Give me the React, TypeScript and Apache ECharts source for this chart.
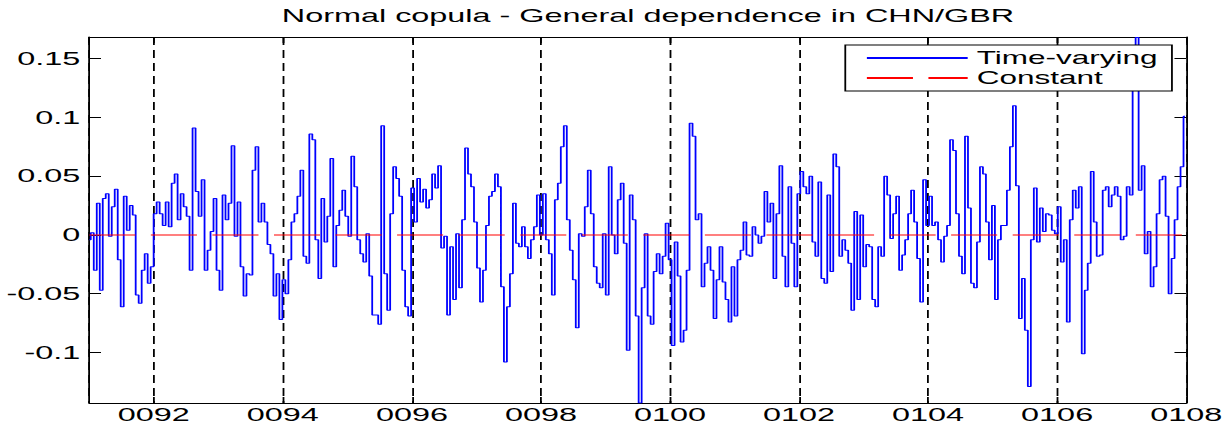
import { useEffect, useRef } from "react";
import * as echarts from "echarts";

const TITLE = "Normal copula - General dependence in CHN/GBR";
const SERIES_NAMES = ["Time-varying", "Constant"];
const X_MIN = 91;
const X_MAX = 108;
const X_STEP = 0.0464;
const Y_MIN = -0.143;
const Y_MAX = 0.1685;
const CONSTANT_VALUE = 0;

// time-varying dependence, read left to right
const tvA = [-0.004, 0.002, -0.030, 0.027, -0.047, 0.031, 0.035, -0.001, 0.024, 0.039, -0.021, -0.061, 0.033, 0.004, 0.025, 0.017, -0.051, -0.058, -0.030, -0.016, -0.041, -0.027, 0.018, 0.028, 0.018, 0.008, 0.028, 0.007, 0.044, 0.052, 0.013, 0.035, 0.024, 0.016];
const tvB = [-0.030, 0.091, 0.037, 0.016, 0.047, -0.030, -0.013, 0.003, 0.031, -0.030, -0.047, 0.034, 0.013, 0.027, 0.076, -0.001, 0.028, -0.027, -0.052, -0.033, -0.034, 0.055, 0.075, 0.011, 0.027, 0.011, -0.008, -0.016, -0.052, -0.033, -0.072, -0.038, -0.050];
const tvC = [-0.021, 0.011, 0.018, 0.033, 0.055, -0.018, -0.024, 0.086, 0.081, -0.004, -0.037, 0.031, -0.006, 0.016, 0.065, -0.027, 0.008, 0.021, 0.038, 0.016, -0.001, 0.067, 0.041, -0.004, -0.016, -0.023, 0.001, -0.035, -0.068, -0.068, -0.076, 0.093, -0.033];
const tvD = [-0.064, 0.018, 0.058, 0.048, 0.033, -0.030, -0.061, -0.069, 0.040, 0.011, 0.048, 0.028, 0.039, 0.023, 0.030, 0.052, 0.040, 0.059, -0.011, -0.001, -0.068, -0.010, -0.055, 0.001, -0.045, 0.013, 0.074, 0.052, 0.041, 0.011, -0.028, -0.057, -0.030];
const tvE = [0.008, 0.033, 0.037, 0.052, 0.041, -0.044, -0.108, -0.061, -0.033, 0.027, -0.007, -0.010, 0.007, -0.010, -0.020, -0.004, 0.007, 0.034, 0.000, 0.035, -0.004, -0.016, -0.051, 0.030, 0.044, 0.075, 0.093, 0.013, -0.013, -0.038, -0.079, 0.001, -0.001];
const tvF = [0.024, 0.055, 0.018, -0.027, -0.041, -0.045, 0.001, -0.051, 0.058, 0.000, -0.016, 0.030, 0.044, -0.007, -0.098, 0.034, 0.013, -0.069, -0.143, -0.045, 0.001, -0.069, -0.076, -0.031, -0.016, -0.033, -0.018, 0.010, -0.021, -0.094, -0.006, -0.035, -0.091, -0.081];
const tvG = [-0.030, 0.095, 0.084, 0.013, 0.018, -0.044, -0.024, -0.010, -0.030, -0.071, -0.038, -0.010, -0.040, -0.055, -0.074, -0.027, -0.069, -0.021, -0.013, 0.011, -0.017, -0.018, 0.007, 0.000, -0.007, -0.001, 0.037, 0.011, 0.027, -0.037, 0.018, 0.059, -0.018];
const tvH = [-0.044, 0.041, -0.007, -0.044, 0.035, 0.054, 0.041, 0.035, 0.050, -0.006, -0.018, 0.045, -0.037, -0.041, 0.034, -0.031, 0.069, 0.058, -0.018, -0.004, -0.013, -0.024, -0.064, 0.020, -0.055, 0.017, -0.027, -0.008, -0.010, -0.055, -0.061, -0.010, -0.018];
const tvI = [0.050, 0.034, -0.003, 0.018, 0.033, -0.030, -0.017, -0.004, 0.018, 0.038, 0.011, -0.020, -0.057, 0.047, 0.008, 0.033, 0.008, 0.011, -0.004, -0.023, -0.001, 0.008, 0.081, 0.072, 0.018, -0.018, -0.033, 0.084, 0.023, -0.041, -0.045, -0.006, 0.058, 0.052];
const tvJ = [0.011, -0.021, 0.025, -0.055, -0.004, 0.008, 0.008, 0.038, 0.075, 0.110, 0.042, -0.071, -0.037, -0.081, -0.129, -0.004, 0.040, -0.006, 0.023, 0.003, 0.018, 0.017, 0.004, 0.001, 0.024, -0.023, -0.004, -0.074, 0.013, 0.038, 0.023, 0.041, -0.101];
const tvK = [-0.047, -0.024, 0.054, 0.011, -0.018, -0.017, 0.038, 0.041, 0.024, 0.034, 0.041, 0.033, -0.004, -0.001, 0.041, 0.034, 0.123, 0.168, 0.038, 0.059, -0.016, 0.003, -0.044, -0.027, 0.018, 0.047, 0.050, 0.016, -0.050, -0.020, 0.013, 0.041, 0.058, 0.101];

const timeVarying = [...tvA, ...tvB, ...tvC, ...tvD, ...tvE, ...tvF, ...tvG, ...tvH, ...tvI, ...tvJ, ...tvK];

const SX = 1.8;
const INNER_W = 1228 / SX;
const FONT = "Liberation Sans";
const CONST_DASH = [25.6, 8.6];

export default function App() {
  const ref = useRef<HTMLDivElement>(null);
  useEffect(() => {
    document.body.style.margin = "0";
    const chart = echarts.init(ref.current!, null, { renderer: "svg" });
    const tvData = timeVarying.map((v, i) => [X_MIN + i * X_STEP, v]);
    const constData = [
      [X_MIN, CONSTANT_VALUE],
      [X_MAX, CONSTANT_VALUE],
    ];
    const fmtX = (v: number) => String(Math.round(v)).padStart(4, "0");
    const xBase = {
      type: "value",
      min: X_MIN,
      max: X_MAX,
      splitNumber: 8,
      minInterval: 2,
      maxInterval: 2,
      axisLine: { show: true, onZero: false, lineStyle: { color: "#000", width: 1 } },
      axisTick: { show: true, inside: true, length: 6, lineStyle: { color: "#000" } },
    };
    const yBase = {
      type: "value",
      min: Y_MIN,
      max: Y_MAX,
      splitNumber: 6,
      minInterval: 0.05,
      maxInterval: 0.05,
      axisLine: { show: true, onZero: false, lineStyle: { color: "#000", width: 1 } },
      axisTick: { show: true, inside: true, length: 6.5, lineStyle: { color: "#000" } },
      splitLine: { show: false },
    };
    chart.setOption({
      animation: false,
      backgroundColor: "#fff",
      textStyle: { fontFamily: FONT },
      grid: { left: 49.6, right: INNER_W - 660.8, top: 37, bottom: 22, containLabel: false },
      graphic: [
        {
          type: "text",
          x: 360,
          y: 16,
          style: {
            text: TITLE,
            font: `18px '${FONT}'`,
            fill: "#000",
            textAlign: "center",
            textVerticalAlign: "middle",
          },
        },
      ],
      legend: {
        data: [
          { name: SERIES_NAMES[0] },
          { name: SERIES_NAMES[1], lineStyle: { type: CONST_DASH } },
        ],
        orient: "vertical",
        left: 469.6,
        top: 45,
        itemWidth: 56,
        itemHeight: 14,
        itemGap: 2,
        padding: [4, 8, 4, 11],
        backgroundColor: "#fff",
        borderColor: "#000",
        borderWidth: 1,
        borderRadius: 0,
        selectedMode: false,
        itemStyle: { opacity: 0 },
        textStyle: { fontSize: 17.5, color: "#000", fontFamily: FONT },
      },
      xAxis: [
        {
          ...xBase,
          position: "bottom",
          axisLabel: { fontSize: 18, color: "#000", margin: 3, formatter: fmtX, showMinLabel: false },
          splitLine: { show: true, lineStyle: { type: [8, 5], color: "#000", width: 1 } },
        },
        {
          ...xBase,
          position: "top",
          axisLabel: { show: false },
          splitLine: { show: false },
        },
      ],
      yAxis: [
        {
          ...yBase,
          position: "left",
          axisLabel: { fontSize: 18, color: "#000", margin: 5, showMinLabel: false, showMaxLabel: false },
        },
        {
          ...yBase,
          position: "right",
          axisLabel: { show: false },
        },
      ],
      series: [
        {
          name: SERIES_NAMES[0],
          type: "line",
          data: tvData,
          step: "middle",
          symbol: "none",
          showSymbol: false,
          lineStyle: { color: "#0000ff", width: 1 },
          itemStyle: { color: "#0000ff" },
          z: 2,
        },
        {
          name: SERIES_NAMES[1],
          type: "line",
          data: constData,
          symbol: "none",
          showSymbol: false,
          lineStyle: { color: "#ff0000", width: 1, type: CONST_DASH },
          itemStyle: { color: "#ff0000" },
          z: 3,
        },
      ],
    });
    return () => chart.dispose();
  }, []);
  return (
    <div style={{ width: 1228, height: 425, overflow: "hidden", background: "#fff" }}>
      <div
        ref={ref}
        style={{ width: INNER_W, height: 425, transform: `scaleX(${SX})`, transformOrigin: "0 0" }}
      />
    </div>
  );
}
